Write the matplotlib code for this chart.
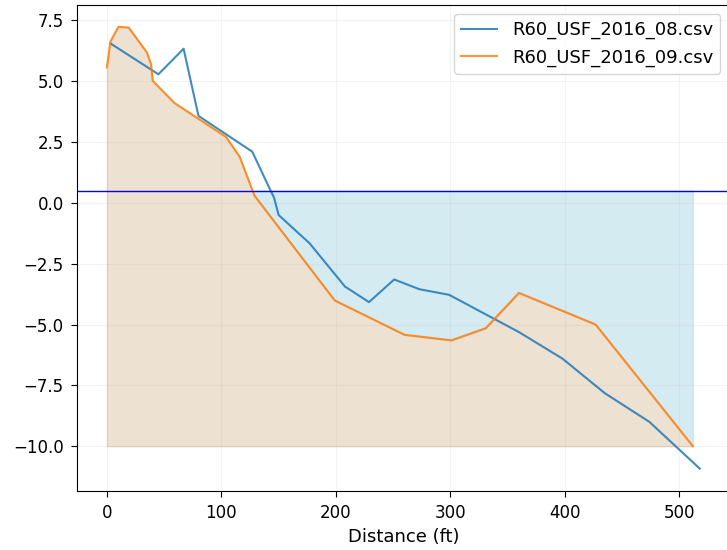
import matplotlib
matplotlib.use('Agg')
import matplotlib.pyplot as plt

# Survey profiles (distance in ft, elevation)
x_08 = [3, 45, 67, 80, 127, 143, 146, 150, 177, 208, 229, 251, 273, 299, 360, 398, 435, 474, 518]
y_08 = [6.55, 5.28, 6.33, 3.57, 2.10, 0.50, 0.22, -0.50, -1.66, -3.44, -4.08, -3.15, -3.55, -3.78,
        -5.31, -6.40, -7.82, -9.00, -10.92]

x_09 = [0, 3, 10, 19, 35, 38.5, 40, 59, 104, 116, 127, 129, 199, 260, 301, 331, 360, 427, 512]
y_09 = [5.56, 6.62, 7.23, 7.20, 6.17, 5.70, 5.01, 4.10, 2.71, 1.89, 0.53, 0.29, -4.01, -5.42, -5.65,
        -5.15, -3.70, -5.00, -10.00]

labels = ['R60_USF_2016_08.csv', 'R60_USF_2016_09.csv']
water_level = 0.5
base_level = -10

fig = plt.figure(figsize=(7.27, 5.5), dpi=100)
ax = fig.add_axes([0.1063, 0.1078, 0.897, 0.8836])

ax.plot(x_08, y_08, label=labels[0], alpha=0.85)
ax.plot(x_09, y_09, label=labels[1], alpha=0.85)

ax.axhline(water_level, color='blue', linewidth=1)

# Below water level and above the surface
ax.fill_between(x_09, y_09, water_level, where=[y < water_level for y in y_09],
                interpolate=True, color='lightblue', alpha=0.5)
# Below the surface
ax.fill_between(x_09, y_09, base_level, color='tan', alpha=0.4)

ax.grid(True, alpha=0.15)
ax.tick_params(labelsize=12, length=4.2, pad=5.5)
ax.set_xlabel('Distance (ft)', fontsize=13)
ax.legend(loc='upper right', fontsize=13)

fig.savefig('out.png', dpi=100)
